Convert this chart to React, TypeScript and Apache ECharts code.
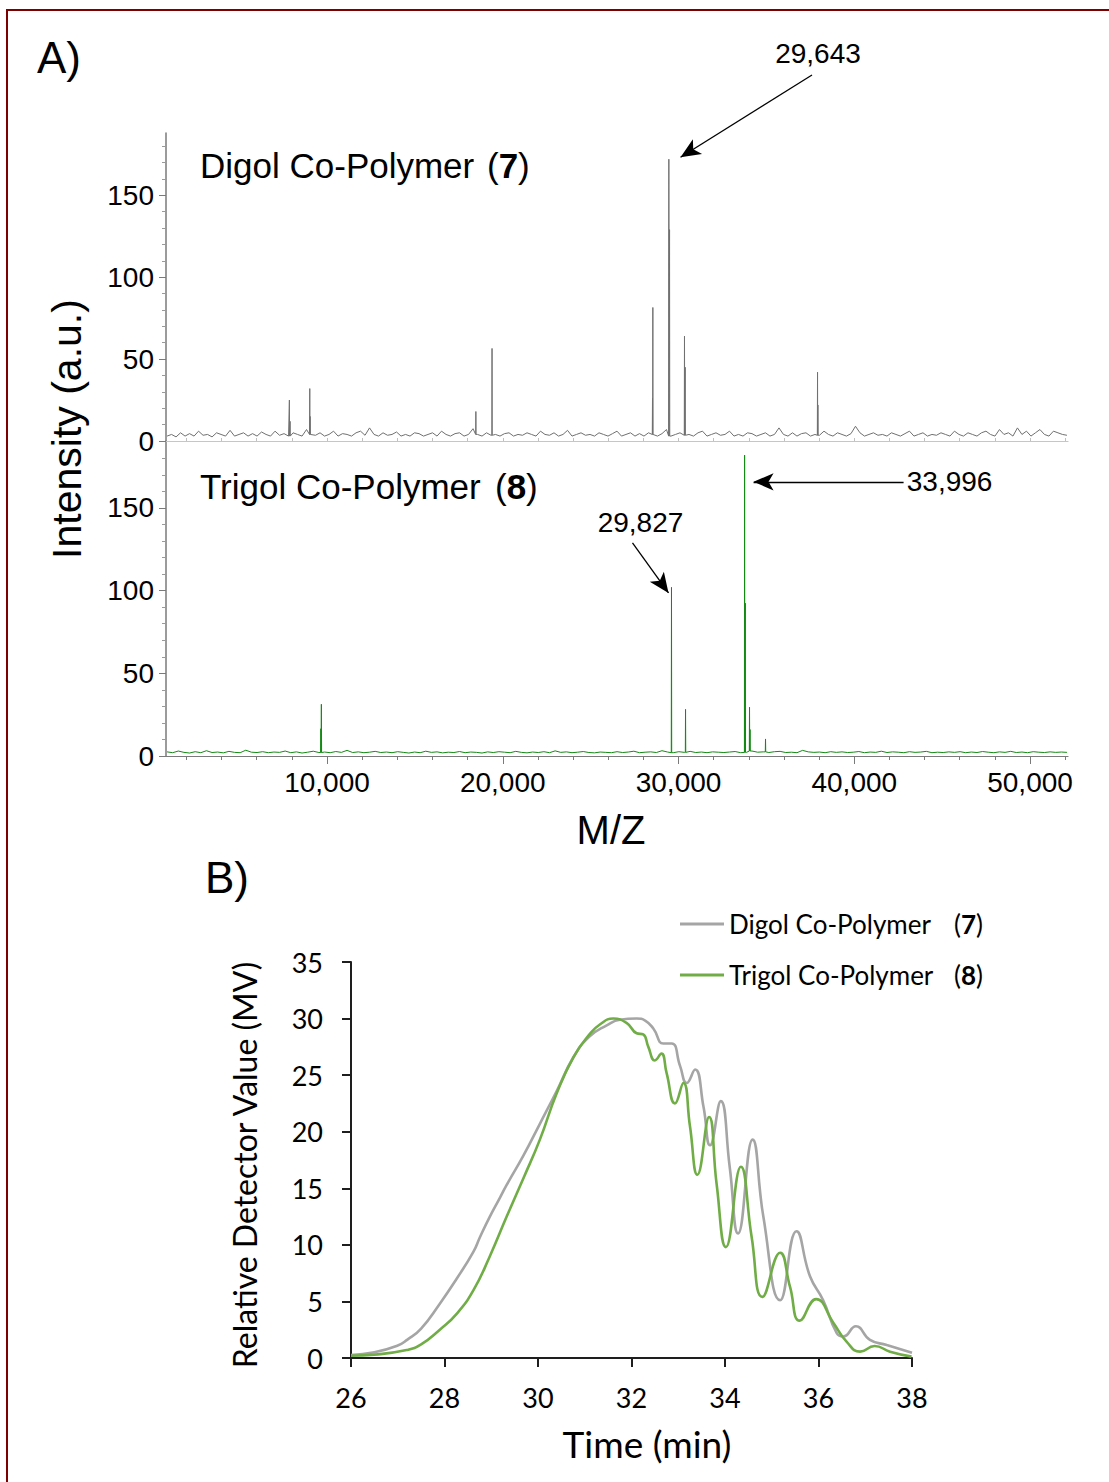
import React, { useEffect, useRef } from 'react';
import * as echarts from 'echarts';

// ---------- Panel A: MALDI spectra ----------
const MZ_MIN = 840;
const MZ_MAX = 52160;
const mzMajorTicks = [10000, 20000, 30000, 40000, 50000];
const mzMinorTicks = [2000, 4000, 6000, 8000, 12000, 14000, 16000, 18000, 22000, 24000, 26000, 28000, 32000, 34000, 36000, 38000, 42000, 44000, 46000, 48000, 52000];
const intensityMajor = [0, 50, 100, 150];
const intensityMinor = [10, 20, 30, 40, 60, 70, 80, 90, 110, 120, 130, 140, 160, 170, 180];

const DIGOL_NOISE_START = 900;
const DIGOL_NOISE_STEP = 256;
const digolNoise = [
  3, 4, 2.5, 5, 3, 4.5, 3, 6, 3.5, 4, 2.5, 5, 4, 3, 6.5, 3, 4, 5, 3, 4.5,
  3, 5.5, 4, 3, 6, 3.5, 4.5, 3, 5, 4, 3, 7, 4, 3.5, 5, 3, 4, 6, 3, 4.5,
  4, 3, 5, 6, 3.5, 8, 4, 3, 5, 3.5, 4, 5.5, 3, 4, 3, 5, 4.5, 3, 4, 5,
  3, 6, 4, 3, 4.5, 5, 3, 4, 7.5, 4, 3, 5, 3.5, 4, 3, 4.5, 5, 3, 4, 3.5,
  5, 4, 3, 6, 4, 3.5, 5, 3, 4, 6.5, 3, 4, 5, 3.5, 4, 3, 5, 4, 3, 4.5,
  6, 3, 4, 5, 3, 4.5, 3, 5, 4, 3, 4.5, 7, 3, 4, 5, 3.5, 4, 3, 5, 6,
  3, 4, 5, 3.5, 4, 6, 3, 4, 3, 5, 4.5, 3, 4, 5, 3, 4, 8, 4, 3, 5,
  3, 4.5, 5, 3, 4, 3.5, 6, 4, 3, 5, 4, 3, 4.5, 9, 5, 3, 4, 5, 3.5, 4,
  3, 5, 4, 3, 4.5, 6, 3, 4, 5, 3, 4, 3.5, 5, 4, 3, 6, 4, 3, 5, 4,
  3, 5, 6, 4, 3, 7, 4, 5, 3, 8, 4, 6, 3, 5, 7, 4, 3, 6, 5, 4, 3.5,
];
const digolPeakMz = [7860, 7900, 9020, 9040, 18470, 19390, 28520, 28540, 29450, 29490, 30340, 30380, 37910, 37930];
const digolPeakH = [25, 12, 32, 15, 18, 56.5, 26, 81.5, 172, 129, 64, 45, 42, 22];

const TRIGOL_NOISE_START = 900;
const TRIGOL_NOISE_STEP = 320;
const trigolNoise = [
  2.5, 2, 3, 2.2, 1.8, 2.6, 2, 3.2, 2.1, 2.4, 1.9, 2.8, 2.2, 2, 3.5, 2.3, 2.1, 2.6, 2, 2.4,
  2.2, 3, 2, 2.5, 1.8, 2.3, 2.9, 2.1, 2.4, 2, 2.7, 2.2, 3.4, 2.1, 2.5, 2, 2.3, 2.8, 2.1, 2.4,
  2, 2.6, 2.2, 1.8, 2.4, 2, 2.9, 2.2, 2.5, 1.9, 2.3, 2.1, 2.7, 2, 2.4, 2.2, 1.8, 2.5, 2.1, 2.6,
  2.3, 2, 2.8, 2.2, 1.9, 2.4, 2.1, 2.6, 2, 3.1, 2.2, 2.5, 2, 2.3, 2.7, 2.1, 1.9, 2.4, 2.2, 2,
  2.6, 2.1, 2.4, 2.9, 2, 2.3, 2.5, 2.1, 3.2, 2.4, 2, 2.6, 2.2, 2.8, 2.1, 2.4, 2, 2.5, 2.3, 2.1,
  2.4, 2.7, 2, 2.2, 3, 2.3, 2.5, 2.1, 2.6, 2.8, 2.1, 2.3, 2, 3.4, 2.5, 2.2, 2.4, 2, 2.6, 2.2,
  2.5, 2.1, 2.3, 2.7, 2, 2.4, 2.2, 2.9, 2.1, 2.5, 2.3, 2, 2.6, 2.2, 2.4, 2.8, 2, 2.3, 2.1, 2.5,
  2.2, 2.6, 2, 2.4, 2.1, 2.7, 2.3, 2, 2.5, 2.2, 2.8, 2.1, 2.4, 2, 2.6, 2.3, 2.1, 2.5, 2.2, 2.4,
  2.2,
];
const trigolPeakMz = [9650, 9680, 29600, 30400, 33760, 33800, 34040, 34070, 34950];
const trigolPeakH = [16.5, 31.3, 102, 28.2, 182, 92.4, 29.5, 16, 10.3];

// ---------- Panel B: GPC traces ----------
const digolTime = [26.0, 26.5, 27.0, 27.2, 27.5, 27.9, 28.26, 28.62, 28.76, 28.97, 29.19, 29.33, 29.69, 30.04, 30.4, 30.76, 31.1, 31.47, 31.75, 32.11, 32.3, 32.47, 32.68, 32.86, 33.04, 33.18, 33.36, 33.54, 33.68, 33.91, 34.1, 34.28, 34.59, 34.82, 35.18, 35.53, 35.82, 36.1, 36.39, 36.53, 36.8, 37.1, 37.46, 38.0];
const digolValue = [0.27, 0.5, 1.1, 1.6, 2.6, 4.8, 7.0, 9.4, 10.7, 12.5, 14.2, 15.3, 17.9, 20.7, 23.6, 26.6, 28.4, 29.4, 29.9, 30.0, 29.8, 29.1, 27.8, 27.8, 25.8, 24.3, 25.5, 22.2, 18.8, 22.7, 16.9, 11.0, 19.3, 12.5, 5.1, 11.2, 7.2, 5.1, 2.2, 1.9, 2.8, 1.6, 1.15, 0.47];
const trigolTime = [26.0, 26.5, 27.19, 27.5, 27.9, 28.26, 28.62, 28.97, 29.33, 29.7, 30.04, 30.4, 30.76, 31.1, 31.33, 31.61, 31.9, 32.11, 32.25, 32.36, 32.5, 32.64, 32.75, 32.93, 33.11, 33.25, 33.41, 33.66, 33.82, 34.02, 34.34, 34.57, 34.8, 35.18, 35.39, 35.6, 35.95, 36.32, 36.6, 36.89, 37.2, 37.53, 37.99];
const trigolValue = [0.2, 0.3, 0.7, 1.2, 2.5, 3.9, 6.0, 9.0, 12.5, 16.0, 19.3, 23.4, 26.6, 28.6, 29.5, 30.0, 29.6, 28.7, 28.6, 27.5, 26.3, 26.9, 25.2, 22.5, 24.3, 20.5, 16.2, 21.3, 15.4, 9.8, 16.9, 10.7, 5.4, 9.3, 6.3, 3.3, 5.2, 3.1, 1.45, 0.56, 1.06, 0.56, 0.12];

const SANS = 'Liberation Sans, Arial, Helvetica, sans-serif';
const LATO = 'Lato, Carlito, Calibri, sans-serif';

function buildSpectrum(noise: number[], start: number, step: number, peakMz: number[], peakH: number[]) {
  const pts: number[][] = noise.map((v, i) => [start + i * step, v]);
  peakMz.forEach((m, i) => {
    const base = noise[Math.min(noise.length - 1, Math.round((m - start) / step))];
    pts.push([m - 12, base], [m, peakH[i]], [m + 12, base]);
  });
  pts.sort((a, b) => a[0] - b[0]);
  return pts;
}

function fmtThousands(v: number) {
  return String(v).replace(/\B(?=(\d{3})+(?!\d))/g, ',');
}

export default function App() {
  const ref = useRef<HTMLDivElement>(null);
  useEffect(() => {
    const chart = echarts.init(ref.current!, null, { renderer: 'svg' });
    const digolSpec = buildSpectrum(digolNoise, DIGOL_NOISE_START, DIGOL_NOISE_STEP, digolPeakMz, digolPeakH);
    const trigolSpec = buildSpectrum(trigolNoise, TRIGOL_NOISE_START, TRIGOL_NOISE_STEP, trigolPeakMz, trigolPeakH);
    const allMzTicks = mzMinorTicks.concat(mzMajorTicks).sort((a, b) => a - b);

    const specGrey = '#707070';
    const specGreen = '#138a13';
    const axisGrey = '#7a7a7a';

    const tickLabel = { fontSize: 28, fontFamily: SANS, color: '#000' };
    const arrowLine = {
      silent: true,
      symbol: ['none', 'arrow'],
      symbolSize: [13, 20],
      label: { show: false },
      emphasis: { disabled: true },
      lineStyle: { color: '#000', width: 1.3, type: 'solid' },
    };

    const option: any = {
      animation: false,
      backgroundColor: '#fff',
      grid: [
        { left: 166, top: 133, width: 902, height: 308, containLabel: false, outerBoundsMode: 'none' },
        { left: 166, top: 441, width: 902, height: 315, containLabel: false, outerBoundsMode: 'none' },
        { left: 351, top: 962, width: 561, height: 396, containLabel: false, outerBoundsMode: 'none' },
      ],
      xAxis: [
        {
          gridIndex: 0, type: 'value', position: 'bottom', min: MZ_MIN, max: MZ_MAX,
          axisLine: { show: true, lineStyle: { color: '#c6c6c6', width: 1.2 } },
          axisTick: { show: true, inside: true, length: 3, customValues: allMzTicks, lineStyle: { color: '#c0c0c0' } },
          axisLabel: { show: false }, splitLine: { show: false },
        },
        {
          gridIndex: 1, type: 'value', position: 'bottom', min: MZ_MIN, max: MZ_MAX,
          axisLine: { show: true, lineStyle: { color: axisGrey, width: 1.2 } },
          axisTick: { show: true, length: 8, customValues: mzMajorTicks, lineStyle: { color: axisGrey } },
          axisLabel: { ...tickLabel, margin: 12, customValues: mzMajorTicks, formatter: (v: number) => fmtThousands(v) },
          splitLine: { show: false },
        },
        {
          gridIndex: 1, type: 'value', position: 'bottom', min: MZ_MIN, max: MZ_MAX,
          axisLine: { show: false },
          axisTick: { show: true, length: 4, customValues: mzMinorTicks, lineStyle: { color: axisGrey } },
          axisLabel: { show: false }, splitLine: { show: false },
        },
        {
          gridIndex: 2, type: 'value', position: 'bottom', min: 26, max: 38, interval: 2,
          axisLine: { show: true, lineStyle: { color: '#1e1e1e', width: 2 } },
          axisTick: { show: true, length: 9, lineStyle: { color: '#1e1e1e', width: 2 } },
          axisLabel: { fontSize: 27, fontFamily: LATO, color: '#000', margin: 26 },
          splitLine: { show: false },
        },
      ],
      yAxis: [
        {
          gridIndex: 0, type: 'value', position: 'left', min: 0, max: 188,
          axisLine: { show: true, lineStyle: { color: axisGrey, width: 1.5 } },
          axisTick: { show: true, length: 7, customValues: intensityMajor, lineStyle: { color: axisGrey } },
          axisLabel: { ...tickLabel, margin: 12, customValues: intensityMajor },
          splitLine: { show: false },
        },
        {
          gridIndex: 0, type: 'value', position: 'left', min: 0, max: 188,
          axisLine: { show: false },
          axisTick: { show: true, length: 4, customValues: intensityMinor, lineStyle: { color: '#9a9a9a' } },
          axisLabel: { show: false }, splitLine: { show: false },
        },
        {
          gridIndex: 1, type: 'value', position: 'left', min: 0, max: 190.5,
          axisLine: { show: true, lineStyle: { color: axisGrey, width: 1.5 } },
          axisTick: { show: true, length: 7, customValues: intensityMajor, lineStyle: { color: axisGrey } },
          axisLabel: { ...tickLabel, margin: 12, customValues: intensityMajor },
          splitLine: { show: false },
        },
        {
          gridIndex: 1, type: 'value', position: 'left', min: 0, max: 190.5,
          axisLine: { show: false },
          axisTick: { show: true, length: 4, customValues: intensityMinor, lineStyle: { color: '#9a9a9a' } },
          axisLabel: { show: false }, splitLine: { show: false },
        },
        {
          gridIndex: 2, type: 'value', position: 'left', min: 0, max: 35, interval: 5,
          axisLine: { show: true, lineStyle: { color: '#1e1e1e', width: 2 } },
          axisTick: { show: true, length: 9, lineStyle: { color: '#1e1e1e', width: 2 } },
          axisLabel: { fontSize: 27, fontFamily: LATO, color: '#000', margin: 28 },
          splitLine: { show: false },
        },
      ],
      legend: {
        data: ['Digol Co-Polymer', 'Trigol Co-Polymer'],
        orient: 'vertical',
        left: 680,
        top: 911,
        padding: 0,
        icon: 'rect',
        itemWidth: 44,
        itemHeight: 3,
        itemGap: 25,
        selectedMode: false,
        formatter: (name: string) =>
          name.indexOf('Digol') === 0
            ? '{n|Digol Co-Polymer}{p|(}{b|7}{p|)}'
            : '{n|Trigol Co-Polymer}{p|(}{b|8}{p|)}',
        textStyle: {
          rich: {
            n: { fontFamily: LATO, fontSize: 26, color: '#000', width: 225, lineHeight: 30 },
            p: { fontFamily: LATO, fontSize: 26, color: '#000', lineHeight: 30 },
            b: { fontFamily: LATO, fontSize: 26, color: '#000', fontWeight: 'bold', lineHeight: 30 },
          },
        },
      },
      series: [
        {
          name: 'Digol spectrum', type: 'line', xAxisIndex: 0, yAxisIndex: 0,
          data: digolSpec, showSymbol: false, symbol: 'none', clip: false,
          lineStyle: { color: specGrey, width: 1 }, itemStyle: { color: specGrey },
          silent: true,
          markLine: { ...arrowLine, data: [[{ x: 812, y: 75 }, { coord: [30114, 173.2] }]] },
        },
        {
          name: 'Trigol spectrum', type: 'line', xAxisIndex: 1, yAxisIndex: 2,
          data: trigolSpec, showSymbol: false, symbol: 'none', clip: false,
          lineStyle: { color: specGreen, width: 1 }, itemStyle: { color: specGreen },
          silent: true,
          markLine: {
            ...arrowLine,
            data: [
              [{ coord: [27382, 128.9] }, { coord: [29431, 98.6] }],
              [{ coord: [42806, 165.8] }, { coord: [34269, 165.8] }],
            ],
          },
          markPoint: {
            silent: true,
            symbol: 'circle',
            symbolSize: 1,
            itemStyle: { color: 'rgba(0,0,0,0)' },
            label: { show: true, position: 'inside', fontSize: 28, fontFamily: SANS, color: '#000', formatter: (p: any) => p.name },
            data: [
              { name: '29,827', coord: [27837, 141] },
              { name: '33,996', coord: [45424, 165.8] },
            ],
          },
        },
        {
          name: 'Digol Co-Polymer', type: 'line', xAxisIndex: 3, yAxisIndex: 4,
          data: digolTime.map((t, i) => [t, digolValue[i]]),
          smooth: 0.5, showSymbol: false, symbol: 'none',
          lineStyle: { color: '#A5A5A5', width: 2.6 }, itemStyle: { color: '#A5A5A5' },
        },
        {
          name: 'Trigol Co-Polymer', type: 'line', xAxisIndex: 3, yAxisIndex: 4,
          data: trigolTime.map((t, i) => [t, trigolValue[i]]),
          smooth: 0.5, showSymbol: false, symbol: 'none',
          lineStyle: { color: '#70AD47', width: 2.6 }, itemStyle: { color: '#70AD47' },
        },
      ],
      graphic: [
        { type: 'rect', silent: true, z: -10, shape: { x: 7, y: 10, width: 1300, height: 1700 }, style: { fill: 'none', stroke: '#7d0000', lineWidth: 2 } },
        { type: 'text', x: 37, y: 57, style: { text: 'A)', fontSize: 44, fontFamily: SANS, fill: '#000', align: 'left', verticalAlign: 'middle', textAlign: 'left', textVerticalAlign: 'middle' } },
        { type: 'text', x: 205, y: 877, style: { text: 'B)', fontSize: 44, fontFamily: SANS, fill: '#000', align: 'left', verticalAlign: 'middle', textAlign: 'left', textVerticalAlign: 'middle' } },
        { type: 'text', x: 818, y: 53, style: { text: '29,643', fontSize: 28, fontFamily: SANS, fill: '#000', align: 'center', verticalAlign: 'middle', textAlign: 'center', textVerticalAlign: 'middle' } },
        {
          type: 'text', x: 200, y: 165,
          style: {
            text: '{n|Digol Co-Polymer}{p|(}{b|7}{p|)}', align: 'left', verticalAlign: 'middle', textAlign: 'left', textVerticalAlign: 'middle',
            rich: {
              n: { fontSize: 35, fontFamily: SANS, fill: '#000', color: '#000', width: 287 },
              p: { fontSize: 35, fontFamily: SANS, fill: '#000', color: '#000' },
              b: { fontSize: 35, fontFamily: SANS, fill: '#000', color: '#000', fontWeight: 'bold' },
            },
          },
        },
        {
          type: 'text', x: 200, y: 486,
          style: {
            text: '{n|Trigol Co-Polymer}{p|(}{b|8}{p|)}', align: 'left', verticalAlign: 'middle', textAlign: 'left', textVerticalAlign: 'middle',
            rich: {
              n: { fontSize: 35, fontFamily: SANS, fill: '#000', color: '#000', width: 295 },
              p: { fontSize: 35, fontFamily: SANS, fill: '#000', color: '#000' },
              b: { fontSize: 35, fontFamily: SANS, fill: '#000', color: '#000', fontWeight: 'bold' },
            },
          },
        },
        { type: 'text', x: 67, y: 429, rotation: Math.PI / 2, style: { text: 'Intensity (a.u.)', fontSize: 41, fontFamily: SANS, fill: '#000', align: 'center', verticalAlign: 'middle', textAlign: 'center', textVerticalAlign: 'middle' } },
        { type: 'text', x: 611, y: 830, style: { text: 'M/Z', fontSize: 40, fontFamily: SANS, fill: '#000', align: 'center', verticalAlign: 'middle', textAlign: 'center', textVerticalAlign: 'middle' } },
        { type: 'text', x: 244, y: 1165, rotation: Math.PI / 2, style: { text: 'Relative Detector Value (MV)', fontSize: 32, fontFamily: LATO, fill: '#000', align: 'center', verticalAlign: 'middle', textAlign: 'center', textVerticalAlign: 'middle' } },
        { type: 'text', x: 647, y: 1443, style: { text: 'Time (min)', fontSize: 37, fontFamily: LATO, fill: '#000', align: 'center', verticalAlign: 'middle', textAlign: 'center', textVerticalAlign: 'middle' } },
      ],
    };
    chart.setOption(option);
    return () => chart.dispose();
  }, []);
  return (
    <div
      ref={ref}
      style={{ position: 'absolute', left: 0, top: 0, width: 1109, height: 1482, background: '#fff' }}
    />
  );
}
